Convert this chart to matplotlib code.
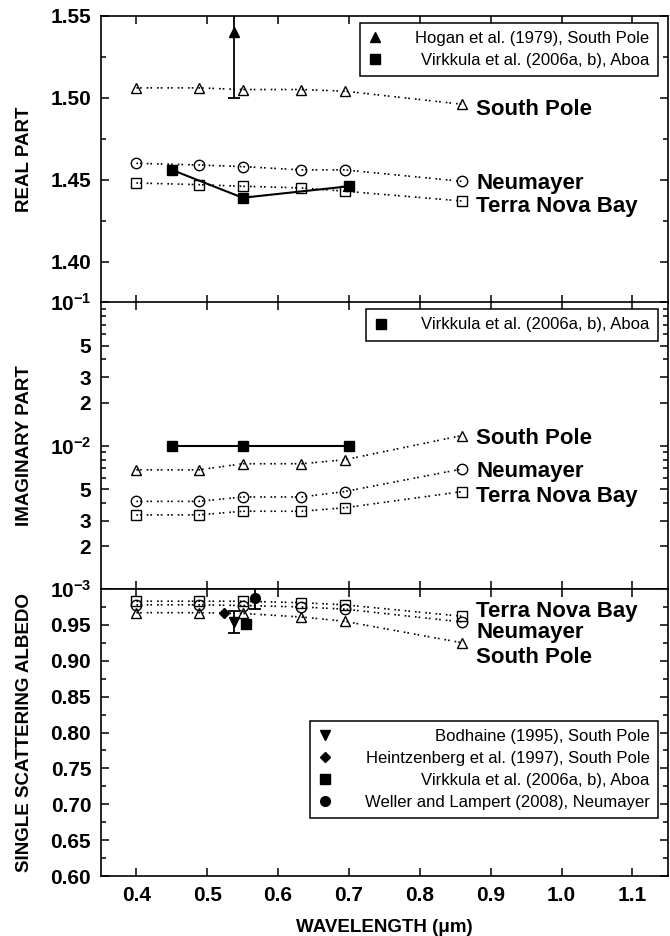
import numpy as np
import matplotlib
matplotlib.use("Agg")
import matplotlib.pyplot as plt
from matplotlib.lines import Line2D
from matplotlib.ticker import FixedLocator, FixedFormatter, NullFormatter

plt.rcParams['font.family'] = ['Liberation Sans', 'DejaVu Sans']
plt.rcParams['font.weight'] = 'bold'
plt.rcParams['mathtext.fontset'] = 'custom'
plt.rcParams['mathtext.rm'] = 'Liberation Sans'
plt.rcParams['mathtext.bf'] = 'Liberation Sans:bold'
plt.rcParams['mathtext.it'] = 'Liberation Sans:italic'

# model wavelengths (um) and sites
wavelength = [0.400, 0.488, 0.550, 0.633, 0.694, 0.860]
sites = ["South Pole", "Neumayer", "Terra Nova Bay"]
site_markers = ['^', 'o', 's']

# real part of refractive index
real_part = {
    "South Pole":     [1.506, 1.506, 1.505, 1.505, 1.504, 1.496],
    "Neumayer":       [1.460, 1.459, 1.458, 1.456, 1.456, 1.449],
    "Terra Nova Bay": [1.448, 1.447, 1.446, 1.445, 1.443, 1.437],
}
# imaginary part
imag_part = {
    "South Pole":     [0.0068, 0.0068, 0.0075, 0.0075, 0.0080, 0.0118],
    "Neumayer":       [0.0041, 0.0041, 0.0044, 0.0044, 0.0048, 0.0069],
    "Terra Nova Bay": [0.0033, 0.0033, 0.0035, 0.0035, 0.0037, 0.0048],
}
# single scattering albedo
ssa = {
    "South Pole":     [0.967, 0.967, 0.966, 0.961, 0.955, 0.925],
    "Neumayer":       [0.978, 0.978, 0.977, 0.975, 0.972, 0.954],
    "Terra Nova Bay": [0.983, 0.983, 0.983, 0.981, 0.978, 0.962],
}

# measurements from literature
hogan_wl, hogan_real, hogan_err = [0.538], [1.540], [0.040]
virk_wl = [0.45, 0.55, 0.70]
virk_real = [1.456, 1.439, 1.446]
virk_imag = [0.010, 0.010, 0.010]
bodh_wl, bodh_ssa, bodh_err = [0.538], [0.954], [0.015]
heintz_wl, heintz_ssa = [0.524], [0.966]
virk_ssa_wl, virk_ssa = [0.554], [0.951]
weller_wl, weller_ssa, weller_err = [0.568], [0.987], [0.015]

# label offsets (points) for the site names
label_dy = [
    {"South Pole": -2, "Neumayer": 0, "Terra Nova Bay": -2},
    {"South Pole": 0, "Neumayer": 0, "Terra Nova Bay": -2},
    {"South Pole": -9, "Neumayer": -5.5, "Terra Nova Bay": 5},
]

dots = (0, (1, 1.2, 1, 3))

fig = plt.figure(figsize=(6.7, 9.36), dpi=100)
h = 0.3066
ax1 = fig.add_axes([0.1507, 0.6766, 0.846, h])
ax2 = fig.add_axes([0.1507, 0.3704, 0.846, h])
ax3 = fig.add_axes([0.1507, 0.0641, 0.846, h])
axes = [ax1, ax2, ax3]


def draw_sites(ax, data, dy):
    for site, m in zip(sites, site_markers):
        ax.plot(wavelength, data[site], linestyle=dots, color='k', lw=1.2,
                marker=m, ms=7.5, mfc='none', mec='k', mew=1.0)
        ax.annotate(site, (wavelength[-1], data[site][-1]),
                    xytext=(10, dy[site]), textcoords='offset points',
                    ha='left', va='center_baseline', fontsize=16,
                    fontweight='bold')


def right_align(leg):
    # push the legend texts to the right edge of the box
    fig.canvas.draw()
    r = fig.canvas.get_renderer()
    col = leg._legend_handle_box.get_children()[0]
    rows = col.get_children()
    w = max(b.get_bbox(r).width for b in rows)
    for b in rows:
        b.mode = 'expand'
        b.width = w


legend_kw = dict(frameon=True, fancybox=False, framealpha=1, edgecolor='k',
                 prop={'weight': 'normal', 'size': 12}, handlelength=0.8,
                 handletextpad=2.0, borderpad=0.5, labelspacing=0.42,
                 borderaxespad=0)


def key(marker, ms):
    return Line2D([], [], marker=marker, color='k', ls='none', ms=ms)


# REAL PART
draw_sites(ax1, real_part, label_dy[0])
ax1.errorbar(hogan_wl, hogan_real, yerr=hogan_err, fmt='none', ecolor='k',
             elinewidth=1.3, capsize=4, capthick=1.3)
ax1.plot(hogan_wl, hogan_real, '^', color='k', ms=7)
ax1.plot(virk_wl, virk_real, '-s', color='k', lw=1.5, ms=6.5)
ax1.set_ylim(1.375, 1.55)
ax1.yaxis.set_major_locator(FixedLocator([1.40, 1.45, 1.50, 1.55]))
ax1.yaxis.set_major_formatter(FixedFormatter(["1.40", "1.45", "1.50", "1.55"]))
ax1.yaxis.set_minor_locator(FixedLocator([1.425, 1.475, 1.525]))
ax1.set_ylabel("REAL PART", fontsize=13.5, fontweight='bold')
leg1 = ax1.legend([key('^', 7), key('s', 6.5)],
                  ["Hogan et al. (1979), South Pole",
                   "Virkkula et al. (2006a, b), Aboa"],
                  loc='upper right', bbox_to_anchor=(0.9824, 0.9756), **legend_kw)

# IMAGINARY PART
draw_sites(ax2, imag_part, label_dy[1])
ax2.plot(virk_wl, virk_imag, '-s', color='k', lw=1.5, ms=6.5)
ax2.set_yscale('log')
ax2.set_ylim(1e-3, 1e-1)
maj = [1e-3, 2e-3, 3e-3, 5e-3, 1e-2, 2e-2, 3e-2, 5e-2, 1e-1]
maj_lab = [r"$\mathbf{10^{-3}}$", "2", "3", "5", r"$\mathbf{10^{-2}}$",
           "2", "3", "5", r"$\mathbf{10^{-1}}$"]
ax2.yaxis.set_major_locator(FixedLocator(maj))
ax2.yaxis.set_major_formatter(FixedFormatter(maj_lab))
ax2.yaxis.set_minor_locator(FixedLocator([4e-3, 6e-3, 7e-3, 8e-3, 9e-3,
                                          4e-2, 6e-2, 7e-2, 8e-2, 9e-2]))
ax2.yaxis.set_minor_formatter(NullFormatter())
ax2.set_ylabel("IMAGINARY PART", fontsize=13.5, fontweight='bold')
leg2 = ax2.legend([key('s', 6.5)], ["Virkkula et al. (2006a, b), Aboa"],
                  loc='upper right', bbox_to_anchor=(0.9824, 0.9767), **legend_kw)

# SINGLE SCATTERING ALBEDO
draw_sites(ax3, ssa, label_dy[2])
ax3.errorbar(bodh_wl, bodh_ssa, yerr=bodh_err, fmt='none', ecolor='k',
             elinewidth=1.3, capsize=4, capthick=1.3)
ax3.errorbar(weller_wl, weller_ssa, yerr=weller_err, fmt='none', ecolor='k',
             elinewidth=1.3, capsize=4, capthick=1.3)
ax3.plot(bodh_wl, bodh_ssa, 'v', color='k', ms=7, label="Bodhaine (1995), South Pole")
ax3.plot(heintz_wl, heintz_ssa, 'D', color='k', ms=5.5,
         label="Heintzenberg et al. (1997), South Pole")
ax3.plot(virk_ssa_wl, virk_ssa, 's', color='k', ms=6.5,
         label="Virkkula et al. (2006a, b), Aboa")
ax3.plot(weller_wl, weller_ssa, 'o', color='k', ms=7,
         label="Weller and Lampert (2008), Neumayer")
ax3.set_ylim(0.6, 1.0)
ssa_ticks = [0.60, 0.65, 0.70, 0.75, 0.80, 0.85, 0.90, 0.95]
ax3.yaxis.set_major_locator(FixedLocator(ssa_ticks))
ax3.yaxis.set_major_formatter(FixedFormatter(["%.2f" % t for t in ssa_ticks]))
ax3.yaxis.set_minor_locator(FixedLocator([0.625, 0.675, 0.725, 0.775, 0.825,
                                          0.875, 0.925, 0.975]))
ax3.set_ylabel("SINGLE SCATTERING ALBEDO", fontsize=13.5, fontweight='bold')
ax3.set_xlabel("WAVELENGTH (\u03bcm)", fontsize=13.5, fontweight='bold', labelpad=10)
leg3 = ax3.legend(loc='lower right', bbox_to_anchor=(0.9824, 0.201), **legend_kw)

xt = [0.4, 0.5, 0.6, 0.7, 0.8, 0.9, 1.0, 1.1]
for ax in axes:
    ax.set_xlim(0.35, 1.15)
    ax.xaxis.set_major_locator(FixedLocator(xt))
    ax.xaxis.set_major_formatter(FixedFormatter(["%.1f" % t for t in xt]))
    ax.tick_params(which='both', direction='in', top=True, right=True,
                   labelsize=15, width=1.1, pad=7)
    ax.tick_params(which='major', length=6)
    ax.tick_params(which='minor', length=3.5)
    for s in ax.spines.values():
        s.set_linewidth(1.2)
    ax.yaxis.set_label_coords(-0.12, 0.5)
ax1.tick_params(labelbottom=False)
ax2.tick_params(labelbottom=False)

for leg in (leg1, leg2, leg3):
    leg.get_frame().set_linewidth(1.1)
    right_align(leg)

fig.savefig("out.png", dpi=100)
